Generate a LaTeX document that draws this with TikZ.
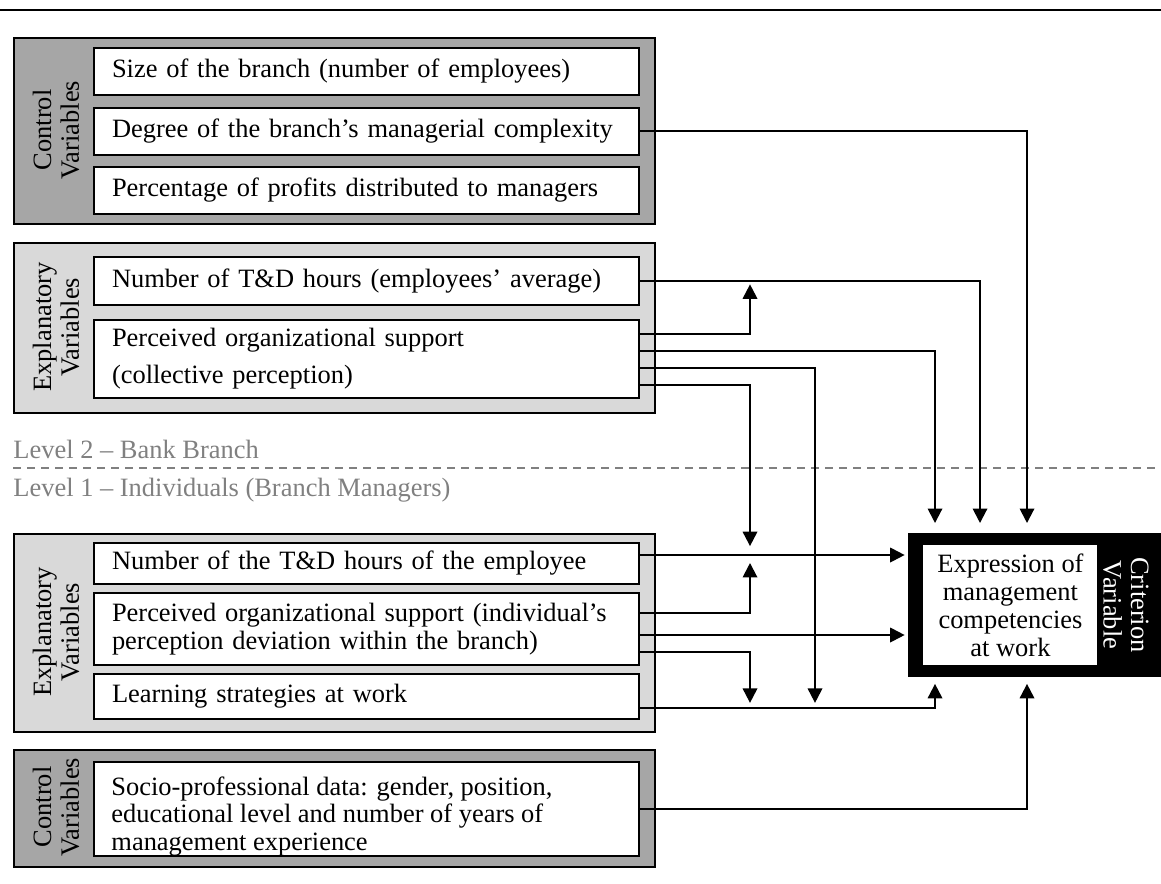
\documentclass[tikz,border=0pt]{standalone}
\usepackage{fontspec}
\setmainfont{Liberation Serif}
\usetikzlibrary{arrows.meta}
\newcommand{\pxu}{0.45pt}
\definecolor{ctrlgray}{HTML}{A6A6A6}
\definecolor{explgray}{HTML}{D9D9D9}
\definecolor{levelgray}{HTML}{808080}
\tikzstyle{group} = [rectangle, draw, line width=0.9pt, anchor=north west, minimum width=288.45pt, inner sep=0pt]
\tikzstyle{ctrl} = [group, fill=ctrlgray]
\tikzstyle{expl} = [group, fill=explgray]
\tikzstyle{item} = [rectangle, draw, line width=0.9pt, fill=white, anchor=north west, text width=229.05pt, inner xsep=8.1pt, inner ysep=0pt, align=left]
\tikzstyle{grouplabel} = [rotate=90, align=center, inner sep=0pt]
\tikzstyle{level} = [anchor=west, inner sep=0pt, text=levelgray]
\tikzstyle{link} = [draw, line width=0.9pt, -{Triangle[length=6.5pt, width=6.5pt]}]
\begin{document}
\begin{tikzpicture}[x=\pxu, y=-\pxu, font=\fontsize{11.9pt}{12.4pt}\selectfont]
    \useasboundingbox (0,0) rectangle (1161,883);
    \draw[line width=1.3pt] (0,10) -- (1161,10);
    % level 2 -- branch
    \node[ctrl, minimum height=83.7pt](g1) at (13,37) {};
    \node[grouplabel](gl1) at (56,130) {Control\\Variables};
    \node[item, minimum height=21.15pt](b11) at (93,47) {Size of the branch (number of employees)};
    \node[item, minimum height=21.15pt](b12) at (93,107) {Degree of the branch's managerial complexity};
    \node[item, minimum height=21.15pt](b13) at (93,166) {Percentage of profits distributed to managers};
    \node[expl, minimum height=76.5pt](g2) at (13,242) {};
    \node[grouplabel](gl2) at (56,327) {Explanatory\\Variables};
    \node[item, minimum height=21.6pt](b21) at (93,256) {Number of T\&D hours (employees' average)};
    \node[item, minimum height=35.1pt](b22) at (93,319) {Perceived organizational support\\[4.2pt](collective perception)};
    \node[level](lv2) at (13,449) {Level 2 -- Bank Branch};
    \draw[levelgray, line width=0.9pt, dash pattern=on 3.6pt off 2.7pt] (13,468) -- (1161,468);
    \node[level](lv1) at (13,490) {Level 1 -- Individuals (Branch Managers)};
    % level 1 -- managers
    \node[expl, minimum height=89.1pt](g3) at (13,533) {};
    \node[grouplabel](gl3) at (56,632) {Explanatory\\Variables};
    \node[item, minimum height=18.45pt](b31) at (93,542) {Number of the T\&D hours of the employee};
    \node[item, minimum height=32.4pt](b32) at (93,592) {Perceived organizational support (individual's\\perception deviation within the branch)};
    \node[item, minimum height=20.25pt](b33) at (93,673) {Learning strategies at work};
    \node[ctrl, minimum height=52.65pt](g4) at (13,749) {};
    \node[grouplabel](gl4) at (56,807) {Control\\Variables};
    \node[item, minimum height=42.3pt](b41) at (93,761) {};
    \node[anchor=west, align=left, inner xsep=8.1pt, inner ysep=0pt, yshift=-3.2pt](b41t) at (b41.west) {Socio-professional data: gender, position,\\educational level and number of years of\\management experience};
    % criterion
    \node[rectangle, fill=black, anchor=north west, minimum width=113.85pt, minimum height=64.8pt](crit) at (908,533) {};
    \node[rectangle, fill=white, anchor=north west, minimum width=78.3pt, minimum height=54pt](critin) at (923,545) {};
    \node[align=center, inner sep=0pt, font=\fontsize{11.9pt}{12.6pt}\selectfont](crittext) at (critin.center) {Expression of\\management\\competencies\\at work};
    \node[rotate=-90, align=center, inner sep=0pt, text=white](critlab) at (1126,605) {Criterion\\Variable};
    % lanes and line starts
    \coordinate (la) at (750,0);
    \coordinate (lb) at (815,0);
    \coordinate (lc) at (935,0);
    \coordinate (ld) at (980,0);
    \coordinate (le) at (1027,0);
    \coordinate (s22a) at ([yshift=11.475pt]b22.east);
    \coordinate (s22b) at ([yshift=3.825pt]b22.east);
    \coordinate (s22c) at ([yshift=-3.825pt]b22.east);
    \coordinate (s22d) at ([yshift=-11.475pt]b22.east);
    \coordinate (s31) at ([yshift=3.825pt]b31.east);
    \coordinate (s32a) at ([yshift=7.2pt]b32.east);
    \coordinate (s32b) at ([yshift=-2.7pt]b32.east);
    \coordinate (s32c) at ([yshift=-10.35pt]b32.east);
    \coordinate (s33) at ([yshift=-5.175pt]b33.east);
    % links
    \path[link, shorten >=4.5pt](b12.east) -| (le |- crit.north);
    \path[link, shorten >=4.5pt](b21.east) -| (ld |- crit.north);
    \path[link, shorten >=4.5pt](s22b) -| (lc |- crit.north);
    \path[link, shorten >=1.5pt](s22a) -| (la |- b21.east);
    \path[link, shorten >=2.3pt](s22c) -| (lb |- s33);
    \path[link, shorten >=4pt](s22d) -| (la |- s31);
    \path[link, shorten >=1.5pt](s31) -- (crit.west |- s31);
    \path[link, shorten >=3.6pt](s32a) -| (la |- s31);
    \path[link, shorten >=1.5pt](s32b) -- (crit.west |- s32b);
    \path[link, shorten >=2.3pt](s32c) -| (la |- s33);
    \path[link, shorten >=2.7pt](s33) -| (lc |- crit.south);
    \path[link, shorten >=2.7pt](b41.east) -| (le |- crit.south);
\end{tikzpicture}
\end{document}
